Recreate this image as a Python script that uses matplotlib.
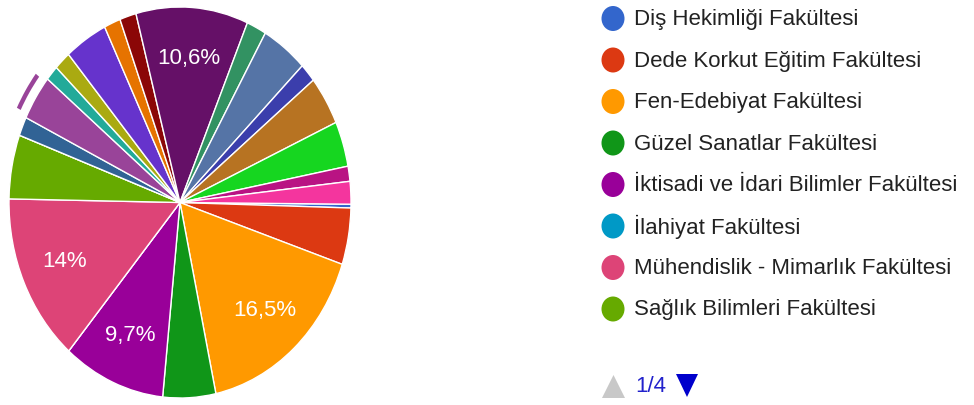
import matplotlib.pyplot as plt
from matplotlib.patches import Wedge, Ellipse, Polygon
import numpy as np

plt.rcParams['font.family'] = ['Liberation Sans', 'DejaVu Sans']

# legend page 1/4 only lists the first eight faculties
faculties = ['Diş Hekimliği Fakültesi', 'Dede Korkut Eğitim Fakültesi',
             'Fen-Edebiyat Fakültesi', 'Güzel Sanatlar Fakültesi',
             'İktisadi ve İdari Bilimler Fakültesi', 'İlahiyat Fakültesi',
             'Mühendislik - Mimarlık Fakültesi', 'Sağlık Bilimleri Fakültesi']
counts = [1, 15, 53, 16, 31, 0, 45, 17, 0, 5, 12, 4, 5, 13, 5, 5,
          34, 6, 14, 5, 13, 12, 4, 6]
colors = ['#3366cc', '#dc3912', '#ff9900', '#109618', '#990099', '#0099c6',
          '#dd4477', '#66aa00', '#b82e2e', '#316395', '#994499', '#22aa99',
          '#aaaa11', '#6633cc', '#e67300', '#8b0707', '#651067', '#329262',
          '#5574a6', '#3b3eac', '#b77322', '#16d620', '#b91383', '#f4359e']
hovered = 10          # slice with the selection ring
page_text = '1/4'

START = -0.5
W, H = 974, 405

def pct_label(p):
    if p < 9:
        return ''
    p = round(p, 1)
    if p == int(p):
        return '%d%%' % p
    return ('%.1f%%' % p).replace('.', ',')

fig = plt.figure(figsize=(W / 100, H / 100), dpi=100)

# pie box in pixels: x 9..351, y 7..398 (screenshot is stretched vertically)
ax = fig.add_axes([9 / W, (H - 398) / H, 342 / W, 391 / H])
wedges, texts, autotexts = ax.pie(
    counts, colors=colors, startangle=START, counterclock=False,
    wedgeprops=dict(edgecolor='white', linewidth=1),
    autopct=pct_label, pctdistance=0.74,
    textprops=dict(color='white', fontsize=16))
ax.set_aspect('auto')
ax.set_xlim(-1, 1)
ax.set_ylim(-1, 1)
ax.axis('off')

# hover ring outside the highlighted slice
total = float(sum(counts))
before = sum(counts[:hovered])
a_start = START - before / total * 360
a_end = START - (before + counts[hovered]) / total * 360
ring = Wedge((0, 0), 1.07, a_end + 1.2, a_start - 1.2, width=0.025,
             facecolor=colors[hovered], edgecolor='none', clip_on=False)
ax.add_patch(ring)

# legend drawn in pixel coordinates
lg = fig.add_axes([0, 0, 1, 1])
lg.set_xlim(0, W)
lg.set_ylim(H, 0)
lg.axis('off')
row_y = 18.5
for name, col in zip(faculties, colors):
    lg.add_patch(Ellipse((613, row_y), 23, 25, facecolor=col, edgecolor='none'))
    lg.text(634, row_y + 1, name, fontsize=16, color='#222222', va='center', ha='left')
    row_y += 41.5

lg.add_patch(Polygon([(602, 398), (625, 398), (613.5, 375)], closed=True,
                     facecolor='#c8c8c8', edgecolor='none'))
lg.text(635, 386, page_text, fontsize=16, color='#2222cc', va='center', ha='left')
lg.add_patch(Polygon([(676, 374), (698, 374), (687, 397)], closed=True,
                     facecolor='#0000cc', edgecolor='none'))

plt.savefig('out.png', dpi=100)
